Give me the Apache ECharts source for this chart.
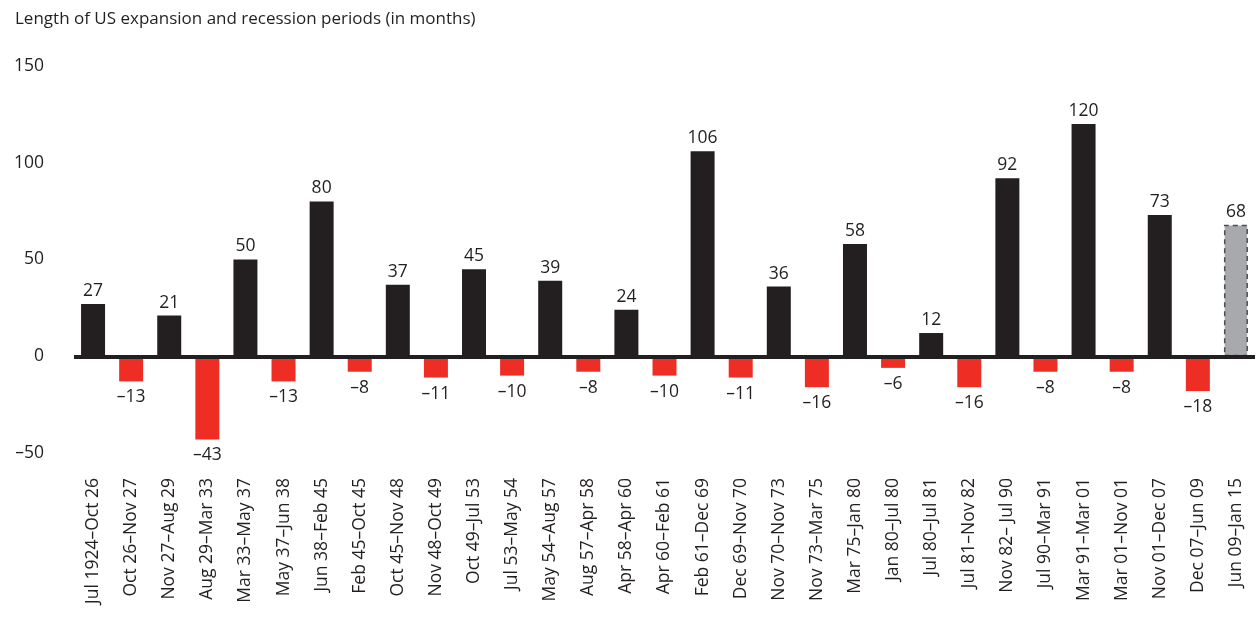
<!DOCTYPE html>
<html>
<head>
<meta charset="utf-8">
<script src="https://cdn.jsdelivr.net/npm/echarts@6/dist/echarts.min.js"></script>
<style>
html,body{margin:0;padding:0;background:#fff;}
#chart{width:1256px;height:624px;}
</style>
</head>
<body>
<div id="chart"></div>
<script>
// periods (expansion / recession alternating)
const periods = [
    'Jul 1924–Oct 26','Oct 26–Nov 27','Nov 27–Aug 29','Aug 29–Mar 33','Mar 33–May 37',
    'May 37–Jun 38','Jun 38–Feb 45','Feb 45–Oct 45','Oct 45–Nov 48','Nov 48–Oct 49',
    'Oct 49–Jul 53','Jul 53–May 54','May 54–Aug 57','Aug 57–Apr 58','Apr 58–Apr 60',
    'Apr 60–Feb 61','Feb 61–Dec 69','Dec 69–Nov 70','Nov 70–Nov 73','Nov 73–Mar 75',
    'Mar 75–Jan 80','Jan 80–Jul 80','Jul 80–Jul 81','Jul 81–Nov 82','Nov 82– Jul 90',
    'Jul 90–Mar 91','Mar 91–Mar 01','Mar 01–Nov 01','Nov 01–Dec 07','Dec 07–Jun 09',
    'Jun 09–Jan 15'
]
// length in months
const months = [27,-13,21,-43,50,-13,80,-8,37,-11,45,-10,39,-8,24,-10,106,-11,36,-16,58,-6,12,-16,92,-8,120,-8,73,-18,68]
const yTicks = [-50,0,50,100,150]

const FONT = '"Open Sans", Lato, sans-serif'
const dash = v => String(v).replace('-', '–')

const chart = echarts.init(document.getElementById('chart'))

const barData = months.map((v, i) => {
    const last = i === months.length - 1
    const item = {
        value: v,
        itemStyle: { color: v < 0 ? '#ee2e24' : '#231f20' },
        label: {
            position: v < 0 ? 'bottom' : 'top',
            distance: v < 0 ? 7 : 4
        }
    }
    if (last) {
        item.itemStyle = {
            color: '#a7a9ac',
            borderColor: '#4d4d4f',
            borderType: [5, 4],
            borderWidth: 1.5
        }
    }
    return item
})

chart.setOption({
    animation: false,
    title: {
        text: 'Length of US expansion and recession periods (in months)',
        left: 10,
        top: 6,
        textStyle: { fontFamily: FONT, fontSize: 17, fontWeight: 'normal', color: '#231f20' }
    },
    grid: { left: 74, right: 1, top: 66, bottom: 171 },
    xAxis: {
        type: 'category',
        data: periods,
        axisLine: { show: false, onZero: false },
        axisTick: { show: false },
        axisLabel: {
            rotate: 90,
            interval: 0,
            margin: 25,
            fontFamily: FONT,
            fontSize: 17.5,
            color: '#231f20'
        }
    },
    yAxis: {
        type: 'value',
        min: yTicks[0],
        max: yTicks[yTicks.length - 1],
        interval: 50,
        splitLine: { show: false },
        axisLine: { show: false },
        axisTick: { show: false },
        axisLabel: {
            margin: 30,
            fontFamily: FONT,
            fontSize: 17.5,
            color: '#231f20',
            formatter: v => dash(v)
        }
    },
    series: [{
        type: 'bar',
        data: barData,
        barWidth: 24,
        label: {
            show: true,
            fontFamily: FONT,
            fontSize: 17.5,
            color: '#231f20',
            formatter: p => dash(p.value)
        },
        markLine: {
            silent: true,
            symbol: 'none',
            label: { show: false },
            lineStyle: { color: '#231f20', width: 4, type: 'solid' },
            data: [{ yAxis: 0 }]
        }
    }]
})
</script>
</body>
</html>
